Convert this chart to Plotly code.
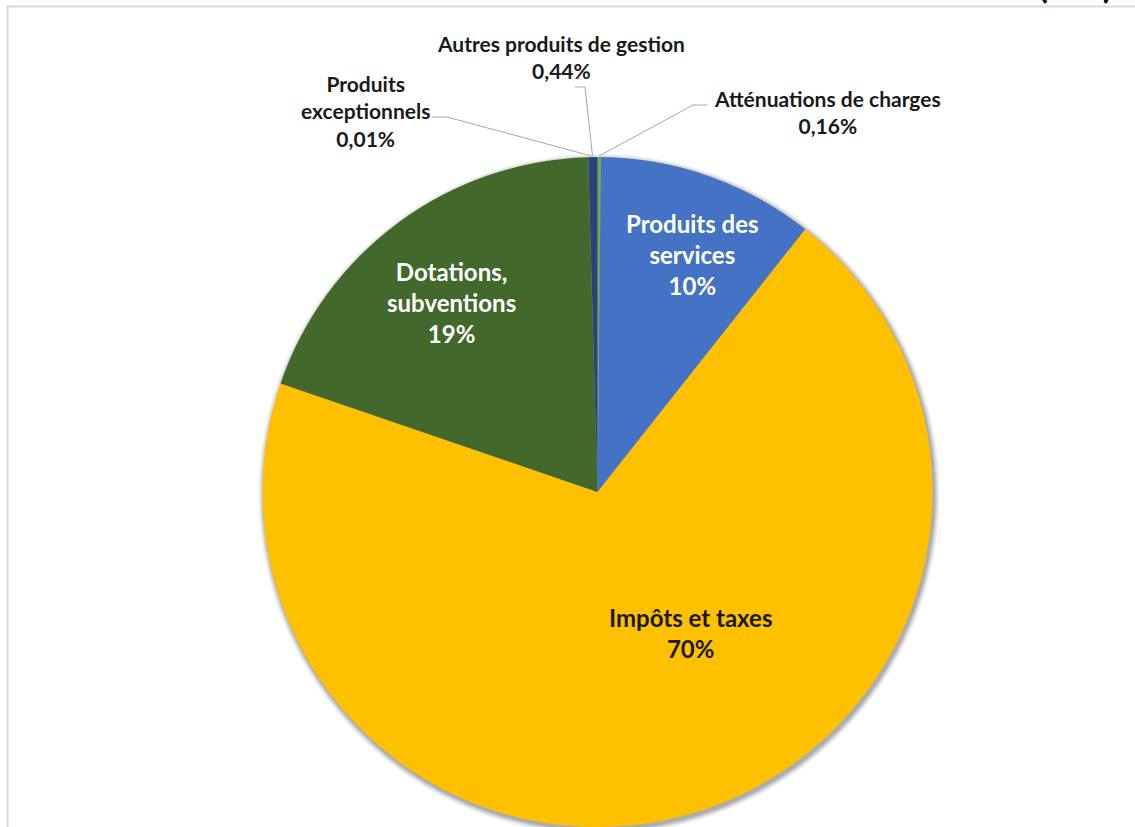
import plotly.graph_objects as go

# Recettes de fonctionnement : répartition par nature (en %)
categories = [
    "Atténuations de charges",
    "Produits des services",
    "Impôts et taxes",
    "Dotations, subventions",
    "Produits exceptionnels",
    "Autres produits de gestion",
]
display_names = [
    "Atténuations de charges",
    "Produits des<br>services",
    "Impôts et taxes",
    "Dotations,<br>subventions",
    "Produits<br>exceptionnels",
    "Autres produits de gestion",
]
values = [0.16, 10.49, 69.6, 19.3, 0.01, 0.44]
colors = ["#70AD47", "#4472C4", "#FFC000", "#43682B", "#9E480E", "#264478"]

W, H = 1135, 827
FONT = "Lato"


def px(x):
    return x / W


def py(y):
    return 1 - y / H


def pct_text(v, total):
    p = v / total * 100
    s = f"{p:.2f}%" if p < 1 else f"{p:.0f}%"
    return s.replace(".", ",")


total = sum(values)

# pie geometry (pixels)
cx, cy, r = 597.5, 492.0, 335.0

fig = go.Figure(
    go.Pie(
        labels=categories,
        values=values,
        sort=False,
        direction="clockwise",
        rotation=0,
        marker=dict(colors=colors, line=dict(width=0)),
        textinfo="none",
        hoverinfo="skip",
        showlegend=False,
        domain=dict(x=[px(cx - r), px(cx + r)], y=[0, min(1, (H - cy + r) / H)]),
    )
)

shapes = []
# soft drop shadow under the pie
for d, op in [(6, 0.03), (5, 0.04), (4, 0.05), (3, 0.06), (2, 0.08), (1, 0.10)]:
    sx, sy = cx + 1.5, cy + 2.5
    shapes.append(dict(
        type="circle", xref="paper", yref="paper", layer="below",
        x0=px(sx - r - d), x1=px(sx + r + d), y0=py(sy + r + d), y1=py(sy - r - d),
        fillcolor=f"rgba(0,0,0,{op})", line=dict(width=0),
    ))

# chart frame
frame = "#D9D9D9"
shapes.append(dict(type="line", xref="paper", yref="paper", x0=px(7), x1=1, y0=py(6.5), y1=py(6.5),
                   line=dict(color=frame, width=2)))
shapes.append(dict(type="line", xref="paper", yref="paper", x0=px(7.5), x1=px(7.5), y0=py(6), y1=0,
                   line=dict(color=frame, width=2)))

# leader lines for the small slices
leader = "#A6A6A6"
leaders = [
    [(707, 105), (693, 105), (599, 156)],
    [(432, 117), (447, 117), (591.5, 156)],
    [(575, 87), (585, 87), (592.5, 156)],
]
for pts in leaders:
    path = "M " + " L ".join(f"{px(x)},{py(y)}" for x, y in pts)
    shapes.append(dict(type="path", xref="paper", yref="paper", path=path,
                       line=dict(color=leader, width=1)))

annotations = []
# label positions (pixel centres) and styles for each category
label_pos = {
    "Atténuations de charges": (827, 112, "#1a1a1a", 21),
    "Produits des services": (692, 255, "white", 24),
    "Impôts et taxes": (690, 633, "#1a1a1a", 24),
    "Dotations, subventions": (451, 302, "white", 24),
    "Produits exceptionnels": (365, 111, "#1a1a1a", 21),
    "Autres produits de gestion": (561, 57, "#1a1a1a", 21),
}
for cat, name, v in zip(categories, display_names, values):
    x, y, col, size = label_pos[cat]
    annotations.append(dict(
        xref="paper", yref="paper", x=px(x), y=py(y), xanchor="center", yanchor="middle",
        text=f"<b>{name}<br>{pct_text(v, total)}</b>", showarrow=False, align="center",
        font=dict(family=FONT, size=size, color=col),
    ))

# title line running above the frame
annotations.append(dict(
    xref="paper", yref="paper", x=px(1075), y=1, xanchor="center", yanchor="bottom", yshift=-8,
    text="<b>(M€)</b>", showarrow=False, font=dict(family=FONT, size=36, color="black"),
))

fig.update_layout(
    width=W, height=H,
    margin=dict(l=0, r=0, t=0, b=0),
    paper_bgcolor="white", plot_bgcolor="white",
    shapes=shapes, annotations=annotations,
    font=dict(family=FONT),
)

fig.write_html("out.html")
